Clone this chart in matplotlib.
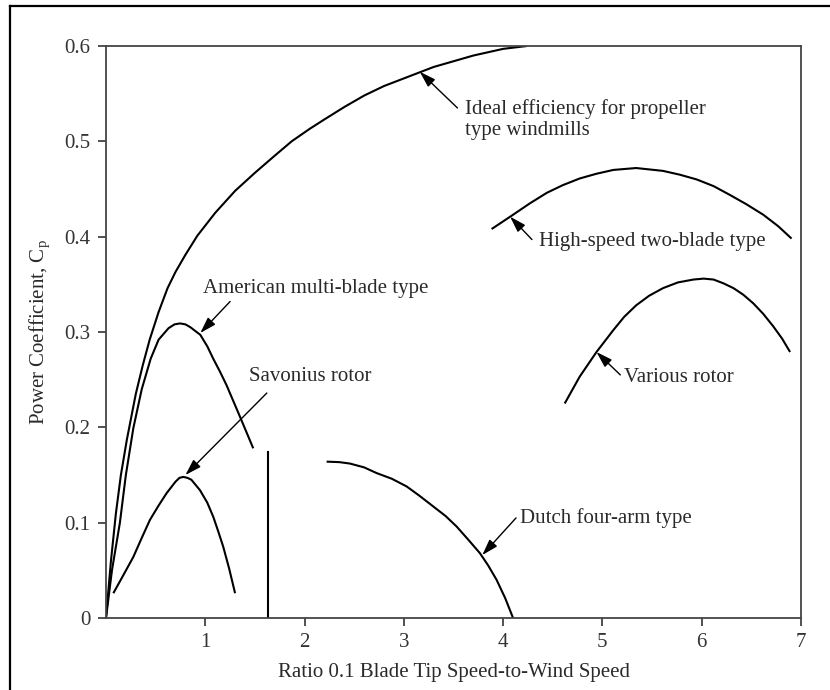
import matplotlib.pyplot as plt
from matplotlib.lines import Line2D

plt.rcParams['font.family'] = ['Liberation Serif', 'DejaVu Serif']

# Power coefficient curves vs tip speed ratio
ideal_x = [0.0, 0.05, 0.1, 0.15, 0.21, 0.3, 0.37, 0.44, 0.53, 0.62, 0.7, 0.8, 0.92, 1.1, 1.3,
           1.5, 1.7, 1.87, 2.05, 2.2, 2.4, 2.6, 2.8, 3.0, 3.3, 3.7, 4.0, 4.24]
ideal_y = [0.0, 0.06, 0.11, 0.15, 0.187, 0.235, 0.265, 0.292, 0.321, 0.346, 0.363, 0.381, 0.401,
           0.425, 0.448, 0.467, 0.485, 0.500, 0.513, 0.523, 0.536, 0.548, 0.558, 0.566, 0.578,
           0.590, 0.597, 0.600]

american_x = [0.0, 0.06, 0.14, 0.2, 0.275, 0.36, 0.45, 0.53, 0.63, 0.69, 0.745, 0.8, 0.85,
              0.95, 1.02, 1.08, 1.15, 1.215, 1.35, 1.483]
american_y = [0.0, 0.05, 0.10, 0.15, 0.199, 0.24, 0.272, 0.292, 0.304, 0.308, 0.309, 0.308,
              0.305, 0.297, 0.285, 0.272, 0.258, 0.244, 0.211, 0.178]

savonius_x = [0.074, 0.175, 0.275, 0.36, 0.443, 0.53, 0.611, 0.7, 0.74, 0.779, 0.82, 0.86,
              0.947, 1.02, 1.081, 1.13, 1.18, 1.24, 1.30]
savonius_y = [0.026, 0.045, 0.064, 0.084, 0.103, 0.118, 0.131, 0.143, 0.147, 0.148, 0.147,
              0.145, 0.134, 0.121, 0.106, 0.091, 0.075, 0.052, 0.026]

dutch_x = [2.222, 2.35, 2.457, 2.6, 2.726, 2.88, 3.028, 3.16, 3.296, 3.42, 3.531, 3.65,
           3.766, 3.85, 3.934, 4.02, 4.10]
dutch_y = [0.164, 0.1635, 0.162, 0.158, 0.152, 0.146, 0.138, 0.128, 0.117, 0.107, 0.096,
           0.082, 0.068, 0.055, 0.040, 0.021, 0.0]

twoblade_x = [3.884, 4.10, 4.27, 4.44, 4.6, 4.77, 4.94, 5.11, 5.34, 5.61, 5.78, 5.95, 6.12,
              6.28, 6.45, 6.62, 6.77, 6.905]
twoblade_y = [0.408, 0.423, 0.435, 0.446, 0.454, 0.461, 0.466, 0.470, 0.472, 0.469, 0.465,
              0.460, 0.453, 0.444, 0.434, 0.423, 0.411, 0.398]

various_x = [4.62, 4.77, 4.94, 5.11, 5.22, 5.34, 5.47, 5.61, 5.76, 5.915, 6.02, 6.12, 6.22,
             6.32, 6.42, 6.52, 6.62, 6.72, 6.81, 6.89]
various_y = [0.225, 0.253, 0.279, 0.302, 0.316, 0.328, 0.338, 0.346, 0.352, 0.355, 0.356,
             0.355, 0.351, 0.346, 0.339, 0.330, 0.319, 0.306, 0.293, 0.279]

divider_x = 1.63
divider_top = 0.174

# label text, text anchor, arrow tail, arrow head
labels = [
    ('Ideal efficiency for propeller\ntype windmills', (3.615, 0.5225), (3.54, 0.535), (3.16, 0.573)),
    ('High-speed two-blade type', (4.36, 0.395), (4.29, 0.397), (4.07, 0.421)),
    ('American multi-blade type', (0.98, 0.346), (1.25, 0.332), (0.95, 0.299)),
    ('Savonius rotor', (1.44, 0.253), (1.62, 0.236), (0.80, 0.150)),
    ('Various rotor', (5.22, 0.2525), (5.18, 0.255), (4.94, 0.279)),
    ('Dutch four-arm type', (4.17, 0.105), (4.13, 0.105), (3.79, 0.066)),
]

fig = plt.figure(figsize=(8.3, 6.9), dpi=100)
ax = fig.add_axes([106 / 830, 1 - 618 / 690, 695 / 830, 572 / 690])

# frame around the figure
fig.add_artist(Line2D([10 / 830, 10 / 830], [0, 1 - 6 / 690], transform=fig.transFigure, color='black', lw=1.6))
fig.add_artist(Line2D([10 / 830, 1], [1 - 6 / 690, 1 - 6 / 690], transform=fig.transFigure, color='black', lw=1.6))

lw = 1.5
for xs, ys in [(ideal_x, ideal_y), (american_x, american_y), (savonius_x, savonius_y),
               (dutch_x, dutch_y), (twoblade_x, twoblade_y), (various_x, various_y)]:
    ax.plot(xs, ys, color='black', lw=lw, solid_capstyle='butt', solid_joinstyle='round')
ax.plot([divider_x, divider_x], [0, divider_top], color='black', lw=lw)

for text, pos, tail, tip in labels:
    ax.text(pos[0], pos[1], text, fontsize=15, color='#2a2a2a', ha='left', va='center',
            linespacing=1.15)
    ax.annotate('', xy=tip, xytext=tail,
                arrowprops=dict(arrowstyle='-|>,head_length=0.7,head_width=0.22', color='black',
                                lw=1.0, mutation_scale=14, shrinkA=0, shrinkB=0))

ax.set_xlim(0, 7)
ax.set_ylim(0, 0.6)
ax.set_xticks([1, 2, 3, 4, 5, 6, 7])
ax.set_yticks([0, 0.1, 0.2, 0.3, 0.4, 0.5, 0.6])
ax.set_yticklabels(['0', '0.1', '0.2', '0.3', '0.4', '0.5', '0.6'])
ax.tick_params(direction='out', length=6, width=1.2, colors='#333333', labelsize=15, pad=5)
for s in ax.spines.values():
    s.set_color('#444444')
    s.set_linewidth(1.3)

ax.set_xlabel('Ratio 0.1 Blade Tip Speed-to-Wind Speed', fontsize=15, color='#2a2a2a', labelpad=8)
ax.set_ylabel('Power Coefficient, C$_\\mathregular{p}$', fontsize=15, color='#2a2a2a', labelpad=8)

fig.savefig('out.png', dpi=100)
